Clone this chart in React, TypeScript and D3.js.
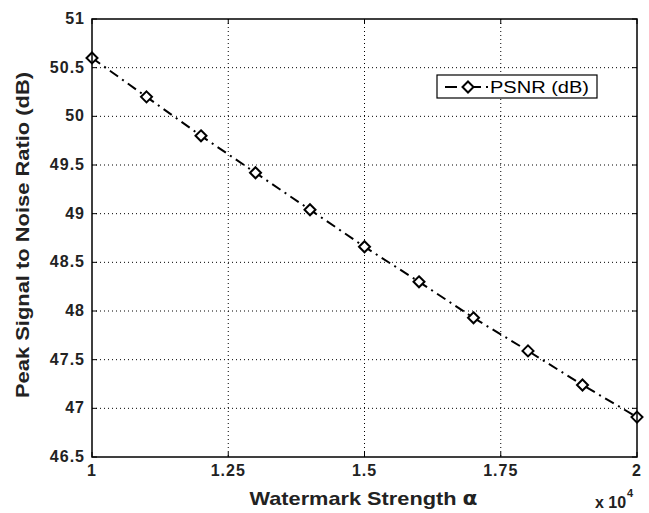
import React from "react";
import * as d3 from "d3";

const xValues = [1.0, 1.1, 1.2, 1.3, 1.4, 1.5, 1.6, 1.7, 1.8, 1.9, 2.0];
const psnrValues = [50.6, 50.2, 49.8, 49.42, 49.04, 48.66, 48.3, 47.93, 47.59, 47.24, 46.91];
const xTicks = [1, 1.25, 1.5, 1.75, 2];
const xTickLabels = ["1", "1.25", "1.5", "1.75", "2"];
const yTicks = [46.5, 47, 47.5, 48, 48.5, 49, 49.5, 50, 50.5, 51];
const yTickLabels = ["46.5", "47", "47.5", "48", "48.5", "49", "49.5", "50", "50.5", "51"];

const W = 649, H = 513;
const L = 92, R = 637, T = 19, B = 457;
const font = "'Liberation Sans', Arial, sans-serif";

function Diamond({ x, y }: { x: number; y: number }) {
  const s = 5.5;
  return (
    <path
      d={`M${x},${y - s}L${x + s},${y}L${x},${y + s}L${x - s},${y}Z`}
      fill="white"
      stroke="black"
      strokeWidth={2}
    />
  );
}

export default function App() {
  const x = d3.scaleLinear().domain([1, 2]).range([L, R]);
  const y = d3.scaleLinear().domain([46.5, 51]).range([B, T]);
  const line = d3.line<number>().x((_, i) => x(xValues[i])).y((d) => y(d));
  const tl = 5;
  return (
    <svg width={W} height={H} style={{ position: "absolute", left: 0, top: 0, background: "white" }}>
      <rect x={0} y={0} width={W} height={H} fill="white" />
      {/* grid */}
      {xTicks.slice(1, -1).map((t) => (
        <line key={"gx" + t} x1={x(t)} x2={x(t)} y1={T} y2={B} stroke="black" strokeWidth={1} strokeDasharray="1,3" />
      ))}
      {yTicks.slice(1, -1).map((t) => (
        <line key={"gy" + t} x1={L} x2={R} y1={y(t)} y2={y(t)} stroke="black" strokeWidth={1} strokeDasharray="1,3" />
      ))}
      {/* ticks */}
      {xTicks.map((t) => (
        <g key={"tx" + t}>
          <line x1={x(t)} x2={x(t)} y1={B} y2={B - tl} stroke="black" />
          <line x1={x(t)} x2={x(t)} y1={T} y2={T + tl} stroke="black" />
        </g>
      ))}
      {yTicks.map((t) => (
        <g key={"ty" + t}>
          <line x1={L} x2={L + tl} y1={y(t)} y2={y(t)} stroke="black" />
          <line x1={R} x2={R - tl} y1={y(t)} y2={y(t)} stroke="black" />
        </g>
      ))}
      {/* data line */}
      <path d={line(psnrValues) || ""} fill="none" stroke="black" strokeWidth={2} strokeDasharray="10,5,2,5" />
      {psnrValues.map((v, i) => (
        <Diamond key={i} x={x(xValues[i])} y={y(v)} />
      ))}
      {/* frame */}
      <rect x={L} y={T} width={R - L} height={B - T} fill="none" stroke="black" strokeWidth={1.5} />
      {/* tick labels */}
      {xTicks.map((t, i) => (
        <text key={"lx" + t} x={x(t)} y={B + 19} textAnchor="middle" fontFamily={font} fontSize={16} fontWeight="bold" letterSpacing={1} fill="#222">
          {xTickLabels[i]}
        </text>
      ))}
      {yTicks.map((t, i) => (
        <text key={"ly" + t} x={L - 7} y={y(t) + 5} textAnchor="end" fontFamily={font} fontSize={16} fontWeight="bold" letterSpacing={1} fill="#222">
          {yTickLabels[i]}
        </text>
      ))}
      <text x={595} y={508} fontFamily={font} fontSize={16} fontWeight="bold" fill="#222">
        x 10
      </text>
      <text x={627} y={497} fontFamily={font} fontSize={11} fontWeight="bold" fill="#222">
        4
      </text>
      {/* axis labels */}
      <text x={363.5} y={505} textAnchor="middle" fontFamily={font} fontSize={18.5} fontWeight="bold" fill="#222" textLength={228} lengthAdjust="spacingAndGlyphs">
        Watermark Strength <tspan fontFamily="'DejaVu Sans', sans-serif" fontWeight="bold">α</tspan>
      </text>
      <text
        transform={`translate(29,235) rotate(-90)`}
        textAnchor="middle"
        fontFamily={font}
        fontSize={18.5}
        fontWeight="bold"
        fill="#222"
        textLength={326}
        lengthAdjust="spacingAndGlyphs"
      >
        Peak Signal to Noise Ratio (dB)
      </text>
      {/* legend */}
      <rect x={437} y={75} width={160} height={23} fill="white" stroke="black" strokeWidth={1.2} />
      <line x1={445} x2={488} y1={87} y2={87} stroke="black" strokeWidth={2} strokeDasharray="12,5,2,5" />
      <Diamond x={468} y={87} />
      <text x={490} y={93} fontFamily={font} fontSize={16} fontWeight="normal" fill="black" textLength={99} lengthAdjust="spacingAndGlyphs">
        PSNR (dB)
      </text>
    </svg>
  );
}
